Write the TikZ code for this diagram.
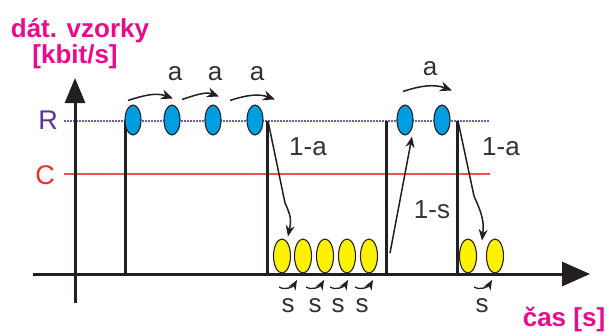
\documentclass[tikz,border=0pt]{standalone}
\usepackage{fontspec}
\setmainfont{Liberation Sans}
\usetikzlibrary{arrows.meta,shapes.geometric}
\definecolor{ink}{RGB}{35,31,32}
\definecolor{txt}{RGB}{50,50,50}
\definecolor{titlepink}{RGB}{236,10,140}
\definecolor{rateR}{RGB}{90,50,160}
\definecolor{rateRline}{RGB}{110,90,200}
\definecolor{rateC}{RGB}{240,45,45}
\definecolor{rateCline}{RGB}{242,80,80}
\definecolor{onfill}{RGB}{0,158,224}
\definecolor{offfill}{RGB}{255,242,0}
\begin{document}
\begin{tikzpicture}[x=1pt,y=1pt,
  axisline/.style={line width=3pt,draw=ink},
  barline/.style={line width=3pt,draw=ink},
  onstate/.style={ellipse,draw=ink,line width=1.1pt,fill=onfill,
    minimum width=16pt,minimum height=30pt,inner sep=0pt},
  offstate/.style={ellipse,draw=ink,line width=1.1pt,fill=offfill,
    minimum width=17pt,minimum height=34pt,inner sep=0pt},
  lbl/.style={font=\fontsize{26}{30}\selectfont,text=txt,inner sep=0pt,anchor=base},
  ttl/.style={font=\fontsize{26}{30}\selectfont\bfseries,text=titlepink,inner sep=0pt,anchor=base},
  trans/.style={line width=1.5pt,draw=ink,-{Stealth[length=11pt,width=9pt]}},
  staytrans/.style={line width=1.5pt,draw=ink,-{Stealth[length=12pt,width=10pt]}},
  selfloop/.style={line width=1.3pt,draw=ink,-{Stealth[length=10pt,width=8pt]}}]
\useasboundingbox (0,0) rectangle (609,333);

% axis titles
\node[ttl] (ytitle) at (80,296) {dát. vzorky};
\node[ttl] (yunit) at (75,270) {[kbit/s]};
\node[ttl] (xtitle) at (564,7) {čas [s]};

% peak rate R and channel capacity C
\node[font=\fontsize{27}{30}\selectfont,text=rateR,inner sep=0pt] (Rlab) at (48,213) {R};
\node[font=\fontsize{27}{30}\selectfont,text=rateC,inner sep=0pt] (Clab) at (45,158) {C};
\coordinate (Rs) at (64,212); \coordinate (Re) at (490,212);
\coordinate (Cs) at (64,159); \coordinate (Ce) at (490,159);
\draw[rateRline,line width=1.5pt,dash pattern=on 1.5pt off 1.5pt] (Rs) -- (Re);
\draw[rateCline,line width=2pt] (Cs) -- (Ce);

% on/off switching bars
\foreach \i/\x in {1/125,2/267,3/386,4/457}{
  \coordinate (t\i) at (\x,212);
  \coordinate (g\i) at (\x,59);
  \draw[barline] (t\i) -- (g\i);
}

% axes
\coordinate (xs) at (33,59); \coordinate (xe) at (590,59);
\coordinate (ys) at (75,30); \coordinate (ye) at (75,255);
\draw[axisline,-{Triangle[length=28pt,width=24pt]}] (xs) -- (xe);
\draw[axisline,-{Triangle[length=25pt,width=20pt]}] (ys) -- (ye);

% "on" samples at rate R
\foreach \i/\x in {1/133,2/172,3/213,4/255,5/405,6/442}{
  \node[onstate] (b\i) at (\x,213) {};
}
% "off" samples on the time axis
\foreach \i/\x in {1/282,2/303,3/325,4/347,5/369,6/468,7/495}{
  \node[offstate] (y\i) at (\x,77) {};
}

% staying in the "on" state
\draw[staytrans] ([shift={(-5,4)}]b1.north) to[out=18,in=160] ([shift={(1,6)}]b2.north);
\draw[staytrans] ([shift={(10,5)}]b2.north) to[out=18,in=160] ([shift={(6,8)}]b3.north);
\draw[staytrans] ([shift={(17,4)}]b3.north) to[out=18,in=160] ([shift={(20,5)}]b4.north);
\draw[staytrans] ([shift={(-2,13)}]b5.north) to[out=18,in=160] ([shift={(10,14)}]b6.north);
\node[lbl] (a1) at (175,253) {a};
\node[lbl] (a2) at (215,253) {a};
\node[lbl] (a3) at (257,253) {a};
\node[lbl] (a4) at (430,258) {a};

% on -> off
\draw[trans] ([xshift=1pt]t2) -- ++(17,-82) .. controls +(7,-15) and +(3,15) .. ([shift={(6,2)}]y1.north);
\draw[trans] ([xshift=1pt]t4) -- ++(16,-75) .. controls +(9,-20) and +(2,18) .. ([shift={(14,-2)}]y6.north);
\node[lbl] (na1) at (308,178) {1-a};
\node[lbl] (na2) at (501,178) {1-a};

% off -> on
\draw[trans] ([shift={(4,21)}]g3) -- ([shift={(7,-1)}]b5.south);
\node[lbl] (ns) at (432,115) {1-s};

% staying in the "off" state
\foreach \x in {279,306,330,355,474}{
  \coordinate (ls\x) at (\x,46);
  \draw[selfloop] (ls\x) to[out=-30,in=240] ++(18,7);
}
\node[lbl] (s1) at (288,21) {s};
\node[lbl] (s2) at (315,21) {s};
\node[lbl] (s3) at (338,21) {s};
\node[lbl] (s4) at (362,21) {s};
\node[lbl] (s5) at (482,21) {s};
\end{tikzpicture}
\end{document}
